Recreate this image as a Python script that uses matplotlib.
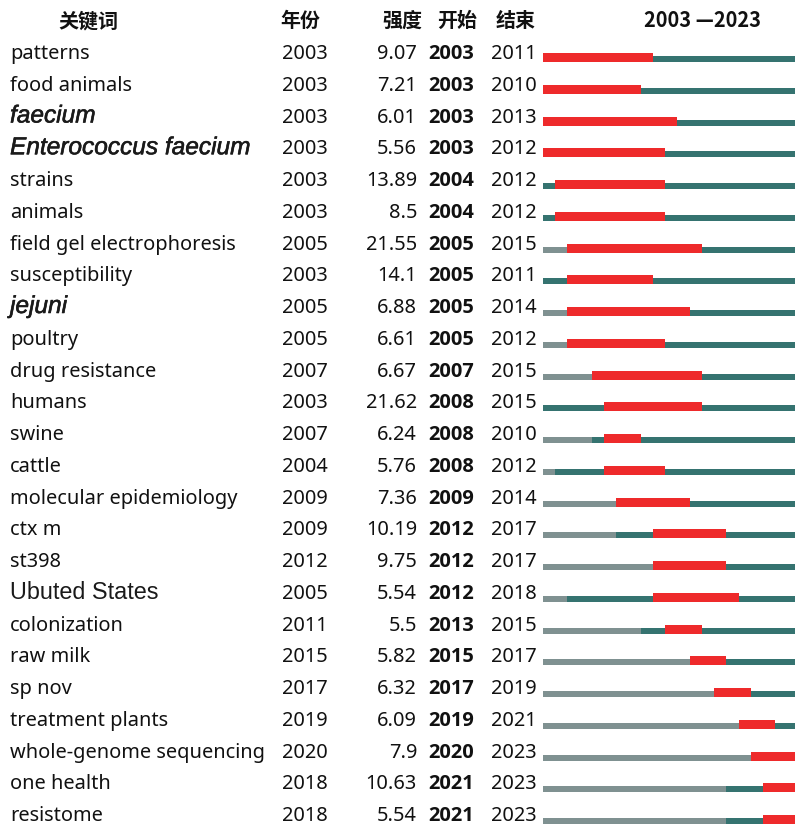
import matplotlib
matplotlib.use("Agg")
import matplotlib.pyplot as plt
import matplotlib.patheffects as pe

keywords = ["patterns", "food animals", "faecium", "Enterococcus faecium", "strains",
            "animals", "field gel electrophoresis", "susceptibility", "jejuni", "poultry",
            "drug resistance", "humans", "swine", "cattle", "molecular epidemiology",
            "ctx m", "st398", "Ubuted States", "colonization", "raw milk", "sp nov",
            "treatment plants", "whole-genome sequencing", "one health", "resistome"]
years = [2003, 2003, 2003, 2003, 2003, 2003, 2005, 2003, 2005, 2005, 2007, 2003, 2007,
         2004, 2009, 2009, 2012, 2005, 2011, 2015, 2017, 2019, 2020, 2018, 2018]
strengths = ["9.07", "7.21", "6.01", "5.56", "13.89", "8.5", "21.55", "14.1", "6.88",
             "6.61", "6.67", "21.62", "6.24", "5.76", "7.36", "10.19", "9.75", "5.54",
             "5.5", "5.82", "6.32", "6.09", "7.9", "10.63", "5.54"]
begins = [2003, 2003, 2003, 2003, 2004, 2004, 2005, 2005, 2005, 2005, 2007, 2008, 2008,
          2008, 2009, 2012, 2012, 2012, 2013, 2015, 2017, 2019, 2020, 2021, 2021]
ends = [2011, 2010, 2013, 2012, 2012, 2012, 2015, 2011, 2014, 2012, 2015, 2015, 2010,
        2012, 2014, 2017, 2017, 2018, 2015, 2017, 2019, 2021, 2023, 2023, 2023]
italic_kw = {"faecium", "Enterococcus faecium", "jejuni"}
arial_kw = {"Enterococcus faecium", "faecium", "jejuni", "Ubuted States"}
headers = ["关键词", "年份", "强度", "开始", "结束", "2003 —2023"]
first_year, last_year = 2003, 2023

RED = "#ee2a2b"
TEAL = "#357370"
GREY = "#7f9191"

W, H = 795, 826
fig = plt.figure(figsize=(W / 100, H / 100), dpi=100)
row_px = 31.75
top_r = -50 / row_px
bot_r = (H - 50) / row_px

ax = fig.add_axes([0, 0, 1, 1])
ax.set_xlim(0, W)
ax.set_ylim(bot_r, top_r)
ax.axis("off")

fs = 14.4
base_off = 9 / row_px
num_font = ["Noto Sans", "DejaVu Sans"]
bold_font = ["Open Sans", "DejaVu Sans"]
for i, kw in enumerate(keywords):
    yb = i + base_off
    if kw in arial_kw:
        is_it = kw in italic_kw
        t = ax.text(10, yb, kw, fontsize=17.6 if is_it else 16.8, family=["Liberation Sans"],
                    style="italic" if is_it else "normal",
                    va="baseline", ha="left", color="#1a1a1a")
        if is_it:
            t.set_path_effects([pe.withStroke(linewidth=0.4, foreground="#1a1a1a")])
    else:
        ax.text(10, yb, kw, fontsize=fs, family=num_font, va="baseline", ha="left", color="#111111")
    ax.text(282, yb, str(years[i]), fontsize=fs, family=num_font, va="baseline", ha="left", color="#111111")
    ax.text(417, yb, strengths[i], fontsize=fs, family=num_font, va="baseline", ha="right", color="#111111")
    ax.text(428, yb, str(begins[i]), fontsize=fs, family=bold_font, weight="bold", va="baseline", ha="left", color="#111111")
    ax.text(491, yb, str(ends[i]), fontsize=fs, family=num_font, va="baseline", ha="left", color="#111111")

hy = (27 - 50) / row_px
hdr_font = ["Noto Sans CJK SC", "DejaVu Sans"]
for x, t in zip([88, 300, 402, 457, 516, 702], headers):
    ax.text(x, hy, t, fontsize=14.4, family=hdr_font, weight="heavy", ha="center", va="baseline", color="#111111")

# timeline bars
bx0, px_per_year = 543, 12.22
bx1 = bx0 + px_per_year * (last_year + 1 - first_year)
axb = fig.add_axes([bx0 / W, 0, (bx1 - bx0) / W, 1])
axb.set_xlim(first_year, last_year + 1)
axb.set_ylim(bot_r, top_r)
axb.axis("off")
bottom_off = 12 / row_px
h_thin = 6 / row_px
h_thick = 9 / row_px
for i in range(len(keywords)):
    yb = i + bottom_off
    if years[i] > first_year:
        axb.barh(yb - h_thin, years[i] - first_year, left=first_year, height=h_thin,
                 align="edge", color=GREY, linewidth=0)
    axb.barh(yb - h_thin, last_year + 1 - years[i], left=years[i], height=h_thin,
             align="edge", color=TEAL, linewidth=0)
    axb.barh(yb - h_thick, ends[i] + 1 - begins[i], left=begins[i], height=h_thick,
             align="edge", color=RED, linewidth=0)

fig.savefig("out.png", dpi=100)
